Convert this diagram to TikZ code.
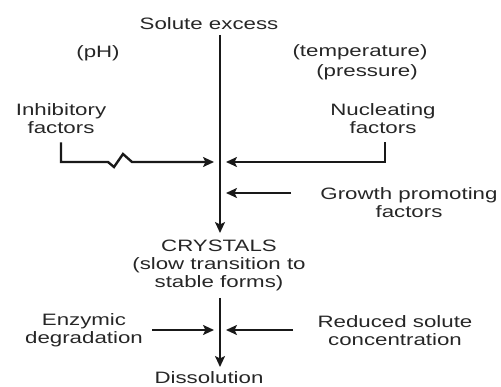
\documentclass[tikz,border=0pt]{standalone}
\usepackage{fontspec}
\setmainfont[FakeStretch=1.35]{Liberation Sans}
\usetikzlibrary{arrows.meta}
\begin{document}
\begin{tikzpicture}[x=1pt,y=-1pt,
  lbl/.style={inner sep=0pt,align=center,text=black!85,font=\fontsize{16.5}{18}\selectfont},
  flow/.style={line width=2.4pt,draw=black!90},
  tip/.style={-{Stealth[length=11pt,width=10pt,inset=2.5pt]}},
  ]
\useasboundingbox (0,0) rectangle (501,387);

% labels
\node[lbl] (solute) at (209,24) {Solute excess};
\node[lbl] (ph) at (98,53) {(pH)};
\node[lbl] (temp) at (360,52) {(temperature)};
\node[lbl] (press) at (367,72) {(pressure)};
\node[lbl] (inhib) at (61,119) {Inhibitory\\factors};
\node[lbl] (nucl) at (383,119) {Nucleating\\factors};
\node[lbl] (growth) at (409,203) {Growth promoting\\factors};
\node[lbl] (cryst) at (219,265) {CRYSTALS\\(slow transition to\\stable forms)};
\node[lbl] (enz) at (84,330) {Enzymic\\degradation};
\node[lbl] (red) at (395,331) {Reduced solute\\concentration};
\node[lbl] (diss) at (209,378) {Dissolution};

% junction points on the main stem
\coordinate (top) at (220,35);
\coordinate (cin) at (220,233);
\coordinate (jl) at (214,162);
\coordinate (jr) at (226,162);
\coordinate (jg) at (226,193);
\coordinate (low) at (220,298);
\coordinate (dout) at (220,367);
\coordinate (el) at (214,330);
\coordinate (er) at (226,330);

% main stem
\draw[flow,tip] (top) -- (cin);
\draw[flow,tip] (low) -- (dout);

% inhibitory factors, with a break in the line
\draw[flow,tip] (inhib.south) ++(0,8) -- (61,162) -- (108,162) -- (114,167) -- (123,154) -- (132,162) -- (jl);
% nucleating factors
\draw[flow,tip] (nucl.south) ++(2,8) |- (jr);
% growth promoting factors
\draw[flow,tip] (291,193) -- (jg);
% enzymic degradation and reduced concentration
\draw[flow,tip] (152,330) -- (el);
\draw[flow,tip] (293,330) -- (er);
\end{tikzpicture}
\end{document}
